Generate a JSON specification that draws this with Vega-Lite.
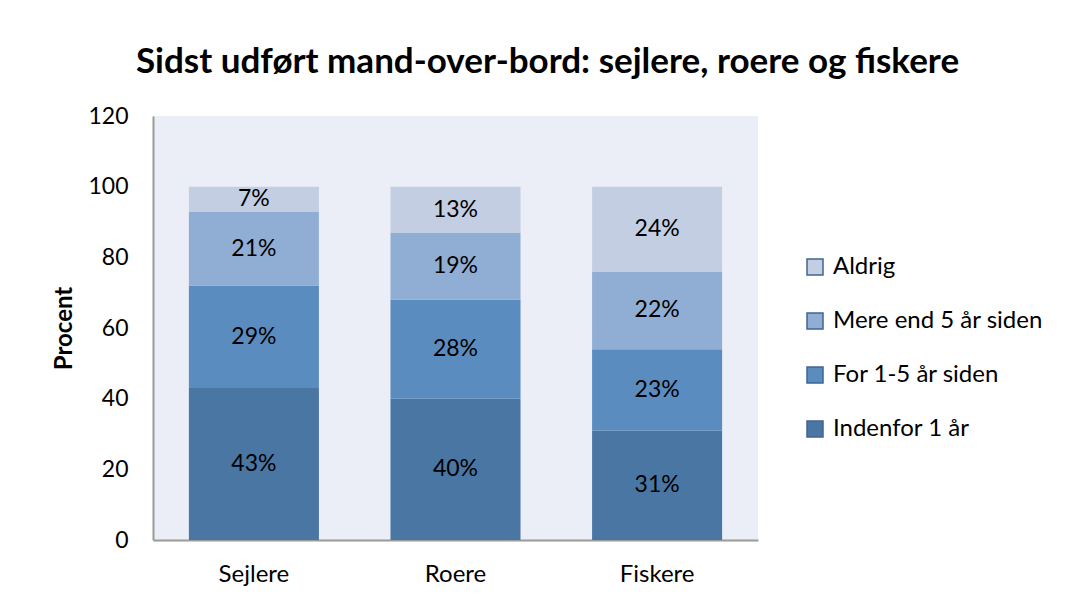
{
  "$schema": "https://vega.github.io/schema/vega-lite/v6.json",
  "width": 605,
  "height": 424,
  "autosize": "none",
  "padding": {"left": 153, "top": 116, "right": 313, "bottom": 60},
  "background": "white",
  "title": {
    "text": "Sidst udført mand-over-bord: sejlere, roere og fiskere",
    "font": "Lato",
    "fontSize": 35,
    "fontWeight": "bold",
    "color": "black",
    "anchor": "middle",
    "frame": "group",
    "dx": 92,
    "offset": 25
  },
  "data": {
    "values": [
      {"gruppe": "Sejlere", "kategori": "Indenfor 1 år", "rank": 1, "value": 43},
      {"gruppe": "Sejlere", "kategori": "For 1-5 år siden", "rank": 2, "value": 29},
      {"gruppe": "Sejlere", "kategori": "Mere end 5 år siden", "rank": 3, "value": 21},
      {"gruppe": "Sejlere", "kategori": "Aldrig", "rank": 4, "value": 7},
      {"gruppe": "Roere", "kategori": "Indenfor 1 år", "rank": 1, "value": 40},
      {"gruppe": "Roere", "kategori": "For 1-5 år siden", "rank": 2, "value": 28},
      {"gruppe": "Roere", "kategori": "Mere end 5 år siden", "rank": 3, "value": 19},
      {"gruppe": "Roere", "kategori": "Aldrig", "rank": 4, "value": 13},
      {"gruppe": "Fiskere", "kategori": "Indenfor 1 år", "rank": 1, "value": 31},
      {"gruppe": "Fiskere", "kategori": "For 1-5 år siden", "rank": 2, "value": 23},
      {"gruppe": "Fiskere", "kategori": "Mere end 5 år siden", "rank": 3, "value": 22},
      {"gruppe": "Fiskere", "kategori": "Aldrig", "rank": 4, "value": 24}
    ]
  },
  "transform": [
    {"stack": "value", "groupby": ["gruppe"], "sort": [{"field": "rank", "order": "ascending"}], "as": ["y0", "y1"]},
    {"calculate": "(datum.y0 + datum.y1) / 2", "as": "mid"},
    {"calculate": "datum.value + '%'", "as": "label"}
  ],
  "encoding": {
    "x": {
      "field": "gruppe",
      "type": "nominal",
      "sort": ["Sejlere", "Roere", "Fiskere"],
      "scale": {"paddingInner": 0.355, "paddingOuter": 0.178},
      "axis": {
        "title": null,
        "labelAngle": 0,
        "labelFont": "Lato",
        "labelFontSize": 24,
        "labelColor": "black",
        "labelPadding": 22,
        "ticks": false,
        "domainColor": "#9a9a9a",
        "domainWidth": 2
      }
    }
  },
  "layer": [
    {
      "mark": {"type": "bar"},
      "encoding": {
        "y": {
          "field": "y0",
          "type": "quantitative",
          "scale": {"domain": [0, 120]},
          "axis": {
            "title": "Procent",
            "titleFont": "Lato",
            "titleFontSize": 24,
            "titleFontWeight": "bold",
            "titleColor": "black",
            "titlePadding": 11,
            "values": [0, 20, 40, 60, 80, 100, 120],
            "labelFont": "Lato",
            "labelFontSize": 23,
            "labelColor": "black",
            "labelPadding": 25,
            "ticks": false,
            "grid": false,
            "domainColor": "#9a9a9a",
            "domainWidth": 2
          }
        },
        "y2": {"field": "y1"},
        "color": {
          "field": "kategori",
          "type": "nominal",
          "scale": {
            "domain": ["Aldrig", "Mere end 5 år siden", "For 1-5 år siden", "Indenfor 1 år"],
            "range": ["#c3cee3", "#90aed4", "#5a8cc0", "#4a76a4"]
          },
          "legend": {
            "title": null,
            "orient": "none",
            "legendX": 650,
            "legendY": 139,
            "symbolType": "square",
            "symbolSize": 256,
            "symbolStrokeColor": "#3f6592",
            "symbolStrokeWidth": 1.5,
            "labelFont": "Lato",
            "labelFontSize": 24,
            "labelColor": "black",
            "labelOffset": 6,
            "rowPadding": 30,
            "labelLimit": 400
          }
        }
      }
    },
    {
      "mark": {"type": "text", "font": "Lato", "fontSize": 23, "color": "black"},
      "encoding": {
        "y": {"field": "mid", "type": "quantitative"},
        "text": {"field": "label"}
      }
    }
  ],
  "config": {"view": {"fill": "#ebeef6", "stroke": null}}
}
